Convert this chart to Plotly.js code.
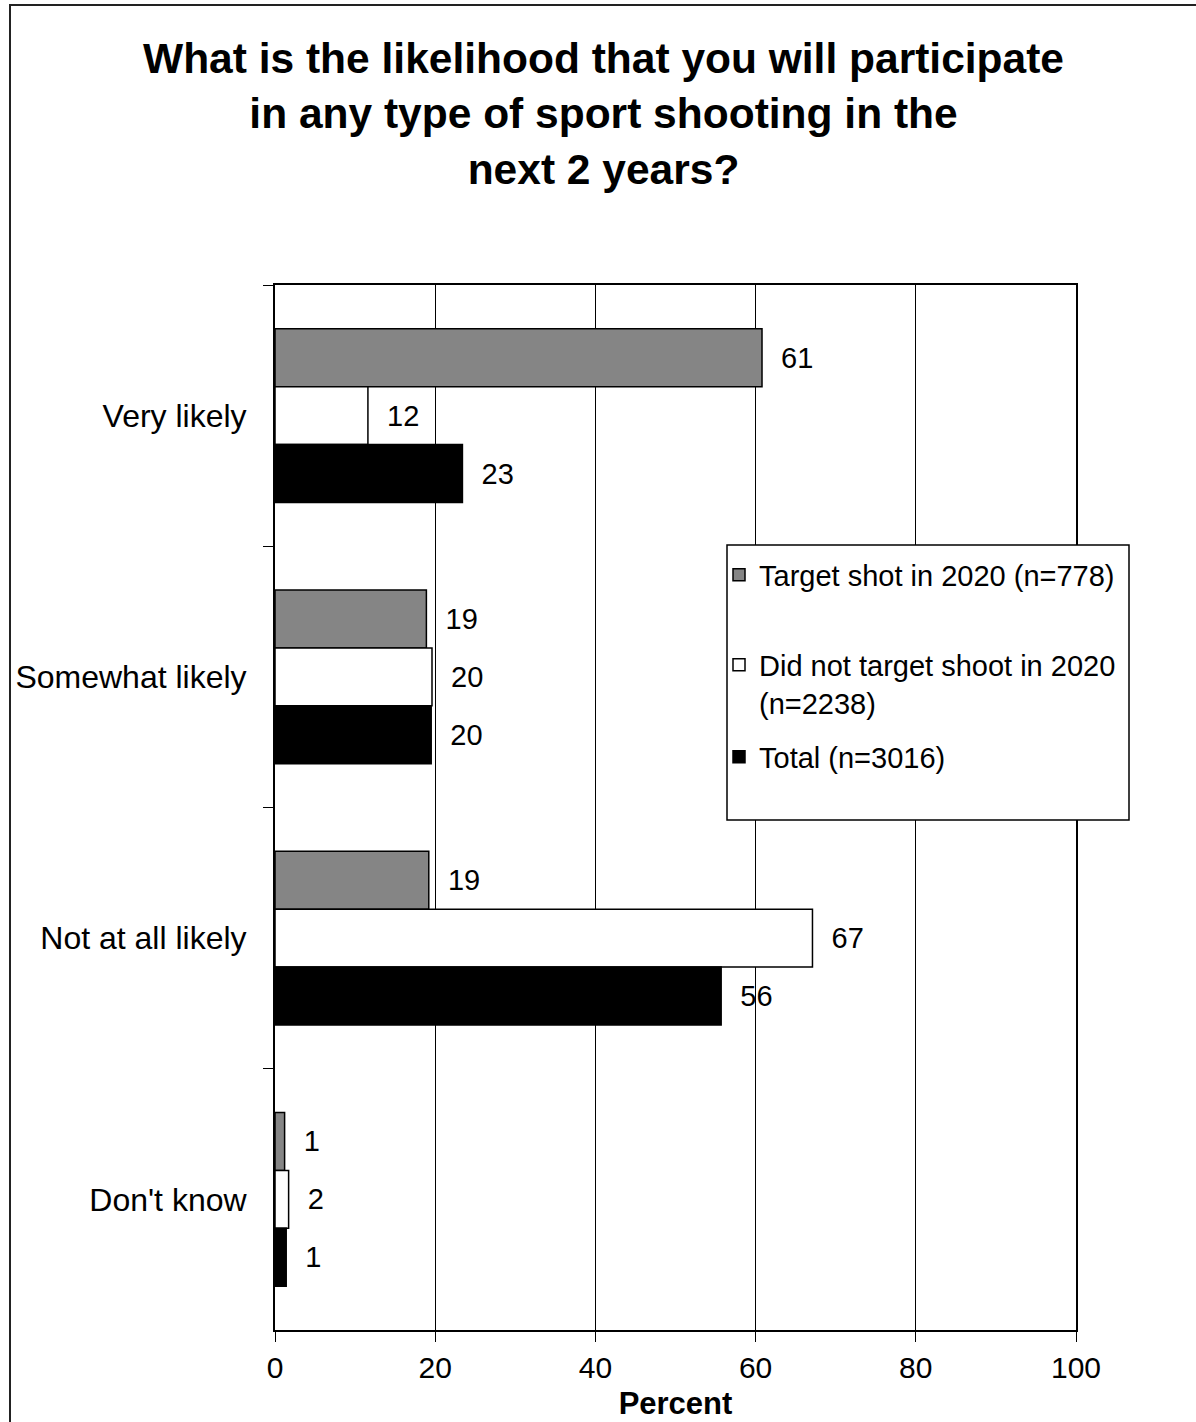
<!DOCTYPE html>
<html>
<head>
<meta charset="utf-8">
<script src="https://cdn.plot.ly/plotly-3.0.1.min.js"></script>
<style>
  html, body { margin: 0; padding: 0; background: #fff; }
  #wrap { position: relative; width: 1196px; height: 1422px; overflow: hidden; }
  #chart { position: absolute; left: 0; top: 0; width: 1196px; height: 1422px; }
  #frame { position: absolute; left: 9px; top: 4px; width: 1400px; height: 1600px;
           border-left: 2px solid #222; border-top: 2px solid #222; pointer-events: none; }
</style>
</head>
<body>
<div id="wrap">
  <div id="chart"></div>
  <div id="frame"></div>
</div>
<script>
// ---- data (percent) ----
const categories = ["Very likely", "Somewhat likely", "Not at all likely", "Don't know"];
const targetShot = [60.8, 18.9, 19.2, 1.2];      // Target shot in 2020 (n=778)
const notTargetShot = [11.6, 19.6, 67.1, 1.7];   // Did not target shoot in 2020 (n=2238)
const totalAll = [23.4, 19.5, 55.7, 1.4];        // Total (n=3016)
const seriesNames = ["Target shot in 2020 (n=778)", "Did not target shoot in 2020<br>(n=2238)", "Total (n=3016)"];
const xTicks = [0, 20, 40, 60, 80, 100];

const FONT = '"Liberation Sans", Arial, Helvetica, sans-serif';
const fills = ['#858585', '#ffffff', '#000000'];
const seriesValues = [targetShot, notTargetShot, totalAll];
const legendIds = ['legend', 'legend2', 'legend3'];

const traces = seriesValues.map((vals, i) => ({
  type: 'bar',
  orientation: 'h',
  name: seriesNames[i],
  y: categories,
  x: vals,
  marker: { color: fills[i], line: { color: '#000', width: 1.5 } },
  texttemplate: '\u00A0\u00A0%{x:.0f}',
  textposition: 'outside',
  cliponaxis: false,
  textfont: { family: FONT, size: 29, color: '#000' },
  legend: legendIds[i],
  hoverinfo: 'x+name'
}));

// plot area in pixels: x 275..1076, y 285..1330
const plotTop = 285, plotBottom = 1330, plotLeft = 275, plotRight = 1076;
const pH = plotBottom - plotTop, pW = plotRight - plotLeft;
const py = (pix) => (plotBottom - pix) / pH;
const px = (pix) => (pix - plotLeft) / pW;

const legendCommon = {
  font: { family: FONT, size: 29, color: '#000' },
  bgcolor: 'rgba(0,0,0,0)',
  borderwidth: 0,
  xanchor: 'left',
  yanchor: 'top',
  valign: 'top',
  x: px(719)
};

const layout = {
  width: 1196,
  height: 1422,
  paper_bgcolor: '#fff',
  plot_bgcolor: '#fff',
  margin: { l: plotLeft, r: 1196 - plotRight, t: plotTop, b: 1422 - plotBottom },
  barmode: 'group',
  bargap: 0.334,
  bargroupgap: 0,
  title: {
    text: 'What is the likelihood that you will participate<br>in any type of sport shooting in the<br>next 2 years?',
    font: { family: FONT, size: 42.5, color: '#000', weight: 'bold' },
    x: 603.5 / 1196,
    xanchor: 'center',
    xref: 'container',
    yref: 'container',
    y: 1 - 73 / 1422,
    yanchor: 'middle'
  },
  xaxis: {
    range: [0, 100],
    tickvals: xTicks,
    ticktext: xTicks.map(String),
    ticks: 'outside',
    ticklen: 10,
    tickcolor: '#000',
    tickwidth: 1,
    showgrid: true,
    gridcolor: '#000',
    gridwidth: 1,
    zeroline: false,
    showline: true,
    linecolor: '#000',
    linewidth: 2,
    mirror: true,
    tickfont: { family: FONT, size: 30, color: '#000' },
    title: { text: 'Percent', font: { family: FONT, size: 31, color: '#000', weight: 'bold' }, standoff: 9 },
    fixedrange: true
  },
  yaxis: {
    type: 'category',
    autorange: 'reversed',
    tickson: 'boundaries',
    ticks: 'outside',
    ticklen: 10,
    tickcolor: '#000',
    tickwidth: 1,
    showgrid: false,
    zeroline: false,
    showline: true,
    linecolor: '#000',
    linewidth: 2,
    mirror: true,
    tickfont: { family: FONT, size: 32, color: '#000' },
    ticklabelstandoff: 20,
    fixedrange: true
  },
  legend: Object.assign({}, legendCommon, { y: py(549.5) }),
  legend2: Object.assign({}, legendCommon, { y: py(639.5) }),
  legend3: Object.assign({}, legendCommon, { y: py(731.5) }),
  shapes: [{
    type: 'rect', xref: 'paper', yref: 'paper', layer: 'above',
    x0: px(727), x1: px(1129), y0: py(820), y1: py(545),
    line: { color: '#000', width: 1.5 }, fillcolor: '#fff'
  }],
  showlegend: true
};

Plotly.newPlot('chart', traces, layout, { displayModeBar: false, staticPlot: true });
</script>
</body>
</html>
